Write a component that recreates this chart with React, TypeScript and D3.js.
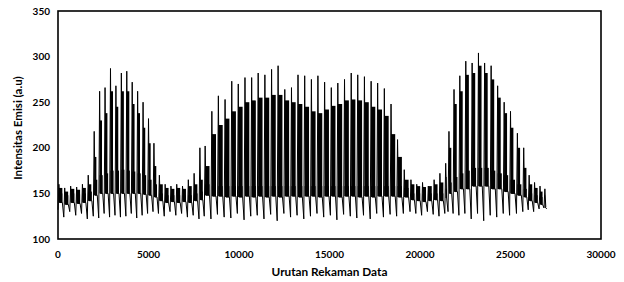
import React from 'react';
import * as d3 from 'd3';

// record index where each oscillation cycle starts (its trough)
const cycleStart = [
  0, 320, 650, 980, 1300, 1620,
  1950, 2250, 2550, 2850, 3150, 3450, 3750, 4050, 4350, 4650, 4950, 5250,
  5550, 5870, 6190, 6510, 6830, 7150, 7470, 7790,
  8080, 8450, 8810, 9180, 9550, 9910, 10280, 10650, 11010, 11380, 11750, 12110,
  12480, 12850, 13210, 13580, 13950, 14310, 14680, 15050, 15410, 15780, 16150,
  16510, 16880, 17250, 17610, 17980, 18350, 18710, 19080,
  19450, 19770, 20090, 20410, 20730, 21050, 21370,
  21550, 21830, 22150, 22480, 22830, 23180, 23520, 23880, 24240, 24600, 24950, 25330, 25680,
  25980, 26280, 26580, 26850,
];
const cycleTrough = [
  132, 124, 130, 126, 128, 122,
  125, 123, 128, 124, 126, 124, 125, 128, 123, 126, 128, 130,
  128, 125, 130, 126, 128, 124, 126, 122,
  125, 122, 127, 124, 123, 128, 121, 125, 126, 122, 127, 120,
  128, 124, 126, 122, 125, 128, 124, 126, 121, 127, 125,
  123, 126, 122, 128, 124, 127, 125, 128,
  130, 128, 126, 130, 127, 125, 128,
  130, 128, 126, 128, 122, 128, 120, 126, 124, 128, 126, 128, 130,
  132, 130, 133, 134,
];
const cyclePeak = [
  160, 156, 158, 157, 160, 170,
  218, 262, 266, 287, 268, 282, 284, 272, 262, 250, 232, 205,
  170, 160, 158, 160, 158, 165, 172, 200,
  202, 240, 257, 253, 273, 270, 277, 277, 282, 280, 286, 290,
  264, 266, 280, 279, 275, 279, 272, 266, 271, 275, 282,
  280, 278, 273, 271, 265, 248, 209, 176,
  165, 160, 162, 158, 165, 172, 183,
  218, 264, 279, 295, 293, 304, 293, 290, 268, 250, 240, 216, 200,
  170, 162, 158, 155,
];
// dense oscillation inside each cycle: its floor, its top and how long it lasts
const bandLow = [
  140, 138, 140, 139, 140, 142,
  148, 150, 150, 150, 150, 150, 150, 150, 150, 149, 148, 146,
  142, 140, 141, 140, 141, 140, 142, 143,
  148, 147, 147, 146, 147, 146, 147, 146, 147, 146, 147, 146,
  147, 147, 146, 147, 147, 146, 147, 147, 146, 147, 147,
  146, 147, 146, 147, 147, 147, 146, 146,
  143, 142, 141, 142, 143, 142, 145,
  150, 152, 155, 155, 158, 158, 158, 155, 155, 152, 150, 148, 146,
  142, 140, 138, 135,
];
const floorTop = [
  150, 148, 150, 149, 150, 152,
  165, 170, 172, 175, 175, 176, 175, 174, 172, 170, 165, 160,
  150, 148, 148, 148, 148, 148, 150, 152,
  160, 158, 158, 158, 158, 158, 158, 158, 158, 158, 158, 158,
  158, 158, 158, 158, 158, 158, 158, 158, 158, 158, 158,
  158, 158, 158, 158, 158, 158, 158, 156,
  150, 150, 149, 150, 150, 150, 155,
  162, 168, 172, 175, 178, 178, 178, 175, 172, 170, 165, 160, 155,
  150, 148, 146, 143,
];
const bandHigh = [
  156, 152, 155, 154, 156, 160,
  190, 230, 238, 262, 245, 262, 262, 248, 238, 222, 205, 180,
  160, 156, 155, 156, 155, 158, 160, 165,
  180, 215, 225, 232, 240, 245, 250, 252, 255, 255, 258, 258,
  252, 250, 248, 245, 240, 238, 242, 246, 248, 252, 253,
  252, 250, 245, 242, 235, 215, 190, 165,
  160, 158, 157, 158, 160, 162, 168,
  200, 248, 262, 280, 282, 290, 282, 275, 255, 238, 222, 200, 178,
  160, 156, 152, 148,
];
const burstLength = [
  200, 190, 200, 190, 190, 170,
  120, 130, 130, 140, 130, 140, 140, 130, 130, 120, 120, 130,
  200, 200, 200, 200, 200, 200, 180, 160,
  240, 230, 240, 240, 230, 240, 240, 230, 240, 240, 230, 240,
  240, 230, 240, 240, 230, 240, 240, 230, 240, 240, 230,
  240, 240, 230, 240, 240, 230, 240, 240,
  190, 190, 190, 190, 190, 190, 150,
  130, 150, 160, 170, 170, 170, 170, 170, 170, 160, 160, 150, 150,
  170, 170, 150, 100,
];
const lastRecord = 27000;
const lastValue = 133;

const xTicks = [0, 5000, 10000, 15000, 20000, 25000, 30000];
const yTicks = [100, 150, 200, 250, 300, 350];

const W = 624;
const H = 282;
const margin = { left: 58, right: 23, top: 11, bottom: 43 };
const LAG = 50;
const GAP = 80;

const App: React.FC = () => {
  const x = d3.scaleLinear().domain([0, 30000]).range([margin.left, W - margin.right]);
  const y = d3.scaleLinear().domain([100, 350]).range([H - margin.bottom, margin.top]);

  const n = cycleStart.length;
  const pts: [number, number][] = [];
  const blocks: { x0: number; x1: number; lo: number; hi: number }[] = [];
  for (let i = 0; i < n; i++) {
    const x0 = cycleStart[i];
    const x1 = i + 1 < n ? cycleStart[i + 1] : lastRecord;
    const end = x1 - GAP;
    const burstEnd = Math.min(end, x0 + LAG + burstLength[i]);
    pts.push([x0, cycleTrough[i]]);
    pts.push([x0 + LAG, cyclePeak[i]]);
    pts.push([x0 + 2 * LAG, bandLow[i]]);
    pts.push([end, bandLow[i]]);
    blocks.push({ x0: x0 + LAG, x1: burstEnd, lo: bandLow[i], hi: bandHigh[i] });
    blocks.push({ x0: x0 + LAG, x1: end, lo: bandLow[i], hi: floorTop[i] });
  }
  pts.push([lastRecord, lastValue]);

  const line = d3
    .line<[number, number]>()
    .x(d => x(d[0]))
    .y(d => y(d[1]));

  const area = d3
    .area<{ x: number; lo: number; hi: number }>()
    .x(d => x(d.x))
    .y0(d => y(d.lo))
    .y1(d => y(d.hi));

  const font = 'Lato, "Liberation Sans", sans-serif';
  const plotBottom = H - margin.bottom;

  return (
    <svg width={W} height={H} style={{ position: 'absolute', left: 0, top: 0, background: '#fff' }}>
      <g>
        {blocks.map((b, i) => (
          <path
            key={i}
            d={area([
              { x: b.x0, lo: b.lo, hi: b.hi },
              { x: b.x1, lo: b.lo, hi: b.hi },
            ]) || ''}
            fill="#000"
          />
        ))}
        <path d={line(pts) || ''} fill="none" stroke="#000" strokeWidth={1} />
      </g>
      <rect
        x={margin.left}
        y={margin.top}
        width={W - margin.left - margin.right}
        height={plotBottom - margin.top}
        fill="none"
        stroke="#000"
        strokeWidth={1.6}
      />
      {yTicks.map(t => (
        <text
          key={t}
          x={margin.left - 8}
          y={y(t) + 3.5}
          textAnchor="end"
          fontFamily={font}
          fontWeight="bold"
          fontSize={10}
        >
          {t}
        </text>
      ))}
      {xTicks.map(t => (
        <text
          key={t}
          x={x(t)}
          y={plotBottom + 19}
          textAnchor="middle"
          fontFamily={font}
          fontWeight="bold"
          fontSize={10}
        >
          {t}
        </text>
      ))}
      <text
        x={(margin.left + W - margin.right) / 2}
        y={276}
        textAnchor="middle"
        fontFamily={font}
        fontWeight="bold"
        fontSize={11.8}
      >
        Urutan Rekaman Data
      </text>
      <text
        transform={`translate(22, ${(margin.top + plotBottom) / 2 + 3}) rotate(-90)`}
        textAnchor="middle"
        fontFamily={font}
        fontWeight="bold"
        fontSize={11.5}
      >
        Intensitas Emisi (a.u)
      </text>
    </svg>
  );
};

export default App;
